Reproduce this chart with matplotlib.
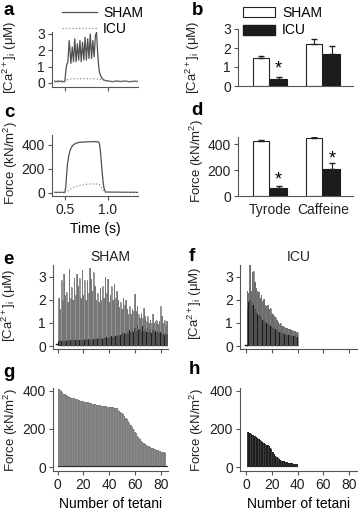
import numpy as np
import matplotlib
matplotlib.use("Agg")
from matplotlib import pyplot as plt
from matplotlib.patches import Patch
from matplotlib.lines import Line2D

plt.rcParams['font.family'] = ['Liberation Sans', 'DejaVu Sans']
plt.rcParams['font.size'] = 10
plt.rcParams['mathtext.fontset'] = 'custom'
plt.rcParams['mathtext.rm'] = 'Liberation Sans'
plt.rcParams['mathtext.it'] = 'Liberation Sans:italic'

# Data

# a: single tetanus [Ca2+]i (time s, uM)
a_sham_t = [0.38, 0.40, 0.42, 0.44, 0.46, 0.48, 0.50, 0.51, 0.52, 0.535, 0.55, 0.57, 0.585, 0.60, 0.615,
            0.63, 0.645, 0.66, 0.675, 0.69, 0.705, 0.72, 0.735, 0.75, 0.765, 0.78, 0.795, 0.81, 0.825,
            0.84, 0.855, 0.868, 0.88, 0.89, 0.90, 0.915, 0.93, 0.95, 0.97, 1.0, 1.05, 1.1, 1.15, 1.2, 1.25, 1.3, 1.35]
a_sham_ca = [0.12, 0.08, 0.13, 0.09, 0.12, 0.08, 0.12, 0.7, 1.1, 1.3, 2.6, 1.2, 2.2, 1.3, 2.7,
             1.3, 2.4, 1.4, 2.6, 1.3, 2.5, 1.4, 2.8, 1.4, 2.7, 1.5, 3.0, 1.5, 2.6,
             1.6, 2.9, 3.1, 1.9, 1.2, 0.7, 0.45, 0.3, 0.2, 0.15, 0.13, 0.08, 0.12, 0.09, 0.12, 0.08, 0.11, 0.1]
a_icu_t = [0.38, 0.50, 0.53, 0.56, 0.70, 0.85, 0.90, 0.95, 1.0, 1.35]
a_icu_ca = [0.06, 0.06, 0.2, 0.25, 0.27, 0.26, 0.24, 0.16, 0.1, 0.08]

# c: single tetanus force (kN/m2)
c_sham_t = [0.38, 0.50, 0.51, 0.52, 0.53, 0.545, 0.56, 0.58, 0.60, 0.63, 0.67, 0.75, 0.85, 0.89, 0.90,
            0.91, 0.92, 0.93, 0.94, 0.95, 0.96, 0.975, 1.35]
c_sham_f = [5, 5, 50, 150, 240, 310, 355, 385, 402, 415, 422, 426, 428, 426, 415,
            370, 290, 200, 120, 60, 25, 8, 5]
c_icu_t = [0.38, 0.50, 0.53, 0.57, 0.62, 0.68, 0.74, 0.80, 0.88, 0.91, 0.93, 0.95, 0.97, 1.35]
c_icu_f = [5, 5, 15, 35, 52, 65, 72, 75, 75, 65, 40, 15, 5, 5]

# b, d: means and SEM
conditions = ['Tyrode', 'Caffeine']
b_sham = [1.5, 2.2]
b_sham_err = [0.08, 0.28]
b_icu = [0.37, 1.68]
b_icu_err = [0.08, 0.4]
d_sham = [420, 445]
d_sham_err = [8, 10]
d_icu = [60, 205]
d_icu_err = [15, 48]

# e: SHAM [Ca2+]i per tetanus (peak, low)
sham_ca_peak = [2.1, 1.6, 2.85, 2.0, 3.15, 2.2, 2.35, 1.9, 3.35, 2.1,
                2.55, 2.0, 2.95, 2.2, 3.15, 2.6, 2.95, 2.1, 3.3, 2.2,
                2.85, 2.0, 2.85, 2.3, 3.4, 2.9, 2.4, 3.2, 2.6, 2.0,
                2.3, 1.9, 2.5, 2.0, 2.6, 2.1, 3.0, 2.3, 2.9, 1.9,
                2.2, 2.6, 2.0, 2.7, 2.1, 2.4, 2.0, 1.7, 1.9, 1.6,
                2.1, 1.8, 2.0, 1.6, 1.4, 1.75, 1.4, 1.6, 1.5, 2.25,
                1.5, 1.75, 1.4, 1.2, 1.45, 1.2, 1.65, 1.3, 1.1, 1.3,
                1.0, 1.15, 1.0, 1.4, 1.0, 1.1, 1.15, 0.95, 1.1, 1.75,
                1.3, 1.0, 1.15, 0.9, 1.1]
sham_ca_low = [0.22, 0.25, 0.2, 0.24, 0.22, 0.25, 0.23, 0.26, 0.22, 0.25,
               0.24, 0.27, 0.23, 0.26, 0.25, 0.28, 0.24, 0.27, 0.26, 0.29,
               0.27, 0.3, 0.26, 0.29, 0.28, 0.31, 0.27, 0.3, 0.29, 0.32,
               0.3, 0.33, 0.31, 0.35, 0.32, 0.36, 0.33, 0.38, 0.34, 0.4,
               0.38, 0.42, 0.4, 0.45, 0.42, 0.48, 0.44, 0.5, 0.46, 0.55,
               0.5, 0.58, 0.52, 0.62, 0.55, 0.7, 0.6, 0.75, 0.62, 0.8,
               0.65, 0.9, 0.68, 0.75, 0.62, 0.85, 0.66, 0.72, 0.6, 0.78,
               0.62, 0.7, 0.58, 0.68, 0.6, 0.65, 0.55, 0.62, 0.56, 0.6,
               0.52, 0.58, 0.5, 0.55, 0.52]

# f: ICU [Ca2+]i per tetanus
icu_ca_peak = [2.4, 2.3, 3.5, 2.4, 3.2, 3.25, 2.8, 2.5, 2.4, 2.35,
               2.1, 2.2, 1.95, 2.05, 1.8, 1.75, 1.8, 1.6, 1.65, 1.45,
               1.4, 1.3, 1.25, 1.15, 1.05, 0.95, 0.98, 0.88, 0.87, 0.82,
               0.8, 0.78, 0.74, 0.72, 0.7, 0.68, 0.66, 0.65, 0.62, 0.6]
icu_ca_low = [1.6, 1.9, 2.0, 1.8, 1.9, 1.8, 1.6, 1.5, 1.4, 1.35,
              1.3, 1.2, 1.15, 1.1, 1.05, 1.0, 0.95, 0.92, 0.88, 0.85,
              0.8, 0.76, 0.72, 0.7, 0.66, 0.62, 0.6, 0.58, 0.55, 0.53,
              0.5, 0.5, 0.48, 0.46, 0.45, 0.44, 0.43, 0.42, 0.41, 0.4]

# g: SHAM force per tetanus
sham_force = [412, 405, 400, 393, 386, 381, 377, 374, 370, 367,
              365, 362, 360, 357, 355, 353, 351, 349, 347, 346,
              344, 342, 340, 339, 337, 335, 333, 332, 330, 328,
              326, 325, 324, 323, 322, 320, 319, 318, 317, 316,
              315, 314, 313, 312, 310, 308, 300, 294, 290, 286,
              278, 270, 260, 250, 240, 230, 220, 210, 198, 186,
              176, 165, 155, 146, 138, 132, 126, 120, 116, 112,
              108, 105, 102, 99, 96, 93, 90, 87, 85, 83,
              81, 79, 77, 75]

# h: ICU force per tetanus
icu_force = [185, 182, 178, 174, 170, 166, 162, 157, 152, 147,
             142, 137, 133, 128, 123, 118, 113, 108, 100, 92,
             80, 66, 56, 50, 45, 40, 37, 34, 31, 29,
             27, 25, 23, 22, 20, 19, 18, 17, 17, 16]

# Figure

W, H = 358, 514
fig = plt.figure(figsize=(W/100, H/100), dpi=100)

def px_axes(l, t, r, b):
    ax = fig.add_axes([l/W, 1-b/H, (r-l)/W, (b-t)/H])
    for s in ['top', 'right']:
        ax.spines[s].set_visible(False)
    for s in ['left', 'bottom']:
        ax.spines[s].set_color('#555555')
        ax.spines[s].set_linewidth(0.8)
    ax.tick_params(direction='out', length=3, width=0.8, color='#555555', pad=2, labelsize=10, labelcolor='#222222')
    return ax

def ylab(text, x, y):
    fig.text(x/W, 1-y/H, text, rotation=90, ha='center', va='center', fontsize=9.5, color='#222222')

ca_label = r'[Ca$^{2+}$]$_\mathrm{i}$ (μM)'
force_label = r'Force (kN/m$^2$)'

# a
ax = px_axes(52, 32, 138, 87)
ax.plot(a_sham_t, a_sham_ca, color='#505050', lw=0.9)
ax.plot(a_icu_t, a_icu_ca, color='#909090', lw=0.9, ls=':')
ax.set_xlim(0.35, 1.35)
ax.set_ylim(-0.245, 3.12)
ax.set_yticks([0, 1, 2, 3])
ax.set_xticks([0.5, 1.0])
ax.set_xticklabels([])
ylab(ca_label, 10, 57)
leg_a = [Line2D([], [], color='#505050', lw=0.9), Line2D([], [], color='#909090', lw=0.9, ls=':')]
fig.legend(leg_a, ['SHAM', 'ICU'], loc='upper left', bbox_to_anchor=(62/W, 1-6/H), frameon=False,
           handlelength=2.5, handletextpad=0.45, labelspacing=0.15, borderpad=0, borderaxespad=0)

# c
ax = px_axes(52, 135, 138, 196)
ax.plot(c_sham_t, c_sham_f, color='#505050', lw=0.9)
ax.plot(c_icu_t, c_icu_f, color='#909090', lw=0.9, ls=':')
ax.set_xlim(0.35, 1.35)
ax.set_ylim(-25, 483)
ax.set_yticks([0, 200, 400])
ax.set_xticks([0.5, 1.0])
ax.set_xticklabels(['0.5', '1.0'])
ax.set_xlabel('Time (s)', labelpad=4)
ylab(force_label, 11, 163)

# b, d bars
xs = np.array([0, 3])
def bar_panel(ax, sham, sham_err, icu, icu_err):
    ax.bar(xs, sham, width=0.95, color='white', edgecolor='#222222', lw=0.8)
    ax.bar(xs + 1, icu, width=0.95, color='#1c1c1c', edgecolor='#1c1c1c', lw=0.8)
    ax.errorbar(xs, sham, yerr=[[0]*2, sham_err], fmt='none', ecolor='#222222', elinewidth=0.8, capsize=2)
    ax.errorbar(xs + 1, icu, yerr=[[0]*2, icu_err], fmt='none', ecolor='#222222', elinewidth=0.8, capsize=2)
    ax.set_xlim(-1.3, 5.2)
    ax.tick_params(axis='x', length=0)

ax = px_axes(238, 29, 353, 86)
bar_panel(ax, b_sham, b_sham_err, b_icu, b_icu_err)
ax.set_ylim(0, 3)
ax.set_yticks([0, 1, 2, 3])
ax.set_xticks([])
ax.text(1, 0.68, '*', ha='center', va='baseline', fontsize=13)
ylab(ca_label, 193, 57)
leg_b = [Patch(facecolor='white', edgecolor='#222222', lw=0.8), Patch(facecolor='#1c1c1c', edgecolor='#1c1c1c')]
fig.legend(leg_b, ['SHAM', 'ICU'], loc='upper left', bbox_to_anchor=(243/W, 1-6/H), frameon=False,
           handlelength=2.3, handleheight=0.75, handletextpad=0.5, labelspacing=0.25, borderpad=0, borderaxespad=0)

ax = px_axes(238, 137, 353, 196)
bar_panel(ax, d_sham, d_sham_err, d_icu, d_icu_err)
ax.set_ylim(0, 454)
ax.set_yticks([0, 200, 400])
ax.set_xticks(xs + 0.5)
ax.set_xticklabels(conditions)
ax.tick_params(axis='x', pad=5)
ax.text(1, 92, '*', ha='center', va='baseline', fontsize=13)
ax.text(4, 252, '*', ha='center', va='baseline', fontsize=13)
ylab(force_label, 197, 161)

# e, f: Ca per tetanus
def ca_panel(ax, peak, low, gray, dark):
    n = np.arange(1, len(peak) + 1)
    ax.bar(n, peak, width=1.0, color=gray, lw=0)
    ax.vlines(n, 0, peak, color='#6a6a6a', lw=0.5)
    ax.bar(n, low, width=1.0, color=dark, lw=0)
    ax.set_ylim(-0.13, 3.52)
    ax.set_yticks([0, 1, 2, 3])
    ax.set_xticks([0, 20, 40, 60, 80])
    ax.set_xticklabels([])

ax = px_axes(53, 265, 168, 349)
ca_panel(ax, sham_ca_peak, sham_ca_low, '#939393', '#1e1e1e')
ax.plot([-1.5, 0.5], [0.1, 0.1], color='#1e1e1e', lw=1)
ax.set_xlim(-3.65, 85.7)
ax.set_title('SHAM', fontsize=10, pad=3, color='#222222')
ylab(ca_label, 9, 305)

ax = px_axes(240, 265, 357, 349)
ca_panel(ax, icu_ca_peak, icu_ca_low, '#7a7a7a', '#1a1a1a')
ax.plot([-1, 0.5], [0.05, 0.05], color='#1e1e1e', lw=1)
ax.set_xlim(-4.65, 86)
ax.set_title('ICU', fontsize=10, pad=3, color='#222222')
ylab(ca_label, 195, 303)

# g, h: force per tetanus
def force_panel(ax, force, color, line):
    n = np.arange(1, len(force) + 1)
    ax.bar(n, force, width=1.0, color=color, lw=0)
    ax.vlines(n[::2], 0, np.array(force)[::2], color=line, lw=0.4)
    ax.set_ylim(-21, 415)
    ax.set_yticks([0, 200, 400])
    ax.set_xticks([0, 20, 40, 60, 80])
    ax.set_xlabel('Number of tetani', labelpad=4)

ax = px_axes(53, 388, 168, 471)
force_panel(ax, sham_force, '#7e7e7e', '#919191')
ax.plot([0.5, 85], [4, 4], color='#2a2a2a', lw=0.8)
ax.set_xlim(-3.65, 85.7)
ylab(force_label, 11, 430)

ax = px_axes(240, 388, 357, 471)
force_panel(ax, icu_force, '#1e1e1e', '#555555')
ax.set_xlim(-4.65, 86)
ylab(force_label, 197, 430)

# panel letters
for letter, x, y in [('a', 3, 15), ('b', 192, 15), ('c', 4, 117), ('d', 191, 115),
                     ('e', 3, 264), ('f', 189, 261), ('g', 3, 377), ('h', 189, 374)]:
    fig.text(x/W, 1-y/H, letter, fontsize=13.5, fontweight='bold', va='baseline', ha='left')

fig.savefig('out.png', dpi=100)
